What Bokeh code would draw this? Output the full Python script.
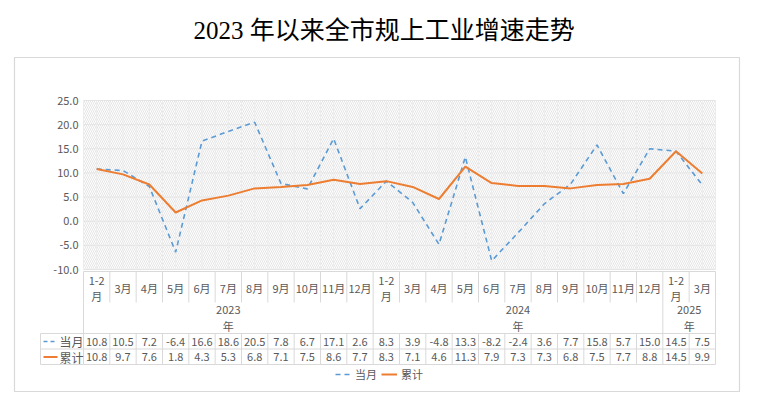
from bokeh.plotting import figure
from bokeh.models import Range1d, Legend, LegendItem
from bokeh.core.properties import value
from bokeh.embed import file_html
from bokeh.resources import INLINE

# ---------------- data ----------------
title_text = "2023 年以来全市规上工业增速走势"
months = ["1-2月", "3月", "4月", "5月", "6月", "7月", "8月", "9月", "10月", "11月", "12月",
          "1-2月", "3月", "4月", "5月", "6月", "7月", "8月", "9月", "10月", "11月", "12月",
          "1-2月", "3月"]
years = ["2023年"] * 11 + ["2024年"] * 11 + ["2025年"] * 2
current = [10.8, 10.5, 7.2, -6.4, 16.6, 18.6, 20.5, 7.8, 6.7, 17.1, 2.6,
           8.3, 3.9, -4.8, 13.3, -8.2, -2.4, 3.6, 7.7, 15.8, 5.7, 15.0,
           14.5, 7.5]
cumulative = [10.8, 9.7, 7.6, 1.8, 4.3, 5.3, 6.8, 7.1, 7.5, 8.6, 7.7,
              8.3, 7.1, 4.6, 11.3, 7.9, 7.3, 7.3, 6.8, 7.5, 7.7, 8.8,
              14.5, 9.9]
y_ticks = [-10, -5, 0, 5, 10, 15, 20, 25]
series_names = ["当月", "累计"]

# ---------------- style ----------------
FONT = value("Noto Sans CJK SC")
GRAY = "#595959"
LINE = "#d9d9d9"
BLUE = "#5B9BD5"
ORANGE = "#ED7D31"

n = len(months)
W, H = 765, 393
FL, FR, FT, FB = 14, 739, 57, 391        # outer frame (page px)
PL, PR, PT, PB = 83, 715, 100, 269       # plot area (page px)
cw = (PR - PL) / n
ppu = (PB - PT) / (max(y_ticks) - min(y_ticks))
x0 = -(PL - FL) / cw
x1 = n + (FR - PR) / cw
y1 = max(y_ticks) + (PT - FT) / ppu
y0 = min(y_ticks) - (FB - PB) / ppu

p = figure(width=W, height=H, output_backend="svg", toolbar_location=None,
           x_axis_location=None, y_axis_location=None,
           x_range=Range1d(x0, x1), y_range=Range1d(y0, y1),
           min_border_left=FL, min_border_right=W - FR, min_border_top=FT,
           min_border_bottom=H - FB, title=title_text)
p.extra_x_ranges = {"px": Range1d(FL, FR)}
p.extra_y_ranges = {"py": Range1d(FB, FT)}
p.grid.visible = False
p.outline_line_color = LINE
p.outline_line_width = 1.2
p.background_fill_color = "white"
p.border_fill_color = "white"

p.title.align = "left"
p.title.offset = 179
p.title.text_font = "Liberation Serif, Noto Sans CJK SC"
p.title.text_font_size = "25px"
p.title.text_font_style = "normal"
p.title.text_color = "#000000"
p.title.standoff = 28

# plot background with hatch
ymin, ymax = min(y_ticks), max(y_ticks)
p.quad(left=0, right=n, bottom=ymin, top=ymax, fill_color="white",
       hatch_pattern="\\", hatch_color="#e2e2e2", hatch_scale=4, hatch_weight=0.9,
       line_color=None)

# grid lines
p.segment(x0=[0] * len(y_ticks), x1=[n] * len(y_ticks), y0=y_ticks, y1=y_ticks,
          line_color="#e4e4e4", line_width=1)
vx = [i / 2 for i in range(2 * n + 1)]
p.segment(x0=vx, x1=vx, y0=[ymin] * len(vx), y1=[ymax] * len(vx),
          line_color="#ececec", line_width=1)

# y tick labels
p.text(x=[78] * len(y_ticks), y=y_ticks, text=[f"{t:.1f}" for t in y_ticks],
       x_range_name="px", text_font=FONT, text_font_size="11px", text_color=GRAY,
       text_align="right", text_baseline="middle")

# series
xs = [i + 0.5 for i in range(n)]
r1 = p.line(xs, current, line_color=BLUE, line_width=1.6, line_dash="5 4")
r2 = p.line(xs, cumulative, line_color=ORANGE, line_width=2)

# ---------------- table ----------------
bounds = list(range(n + 1))
p.segment(x0=[0], x1=[n], y0=[271], y1=[271], y_range_name="py", line_color=LINE)
p.segment(x0=bounds, x1=bounds, y0=[271] * len(bounds), y1=[302] * len(bounds),
          y_range_name="py", line_color=LINE)
ybounds = [0] + [i for i in range(1, n) if years[i] != years[i - 1]] + [n]
p.segment(x0=ybounds, x1=ybounds, y0=[302] * len(ybounds), y1=[333] * len(ybounds),
          y_range_name="py", line_color=LINE)
rows = [333, 348.5, 364]
p.segment(x0=[0] * 3, x1=[n] * 3, y0=rows, y1=rows, y_range_name="py", line_color=LINE)
p.segment(x0=[40] * 3, x1=[PL] * 3, y0=rows, y1=rows, x_range_name="px",
          y_range_name="py", line_color=LINE)
p.segment(x0=bounds, x1=bounds, y0=[333] * len(bounds), y1=[364] * len(bounds),
          y_range_name="py", line_color=LINE)
p.segment(x0=[40], x1=[40], y0=[333], y1=[364], x_range_name="px", y_range_name="py",
          line_color=LINE)

mlab = [m.replace("1-2月", "1-2\n月") for m in months]
p.text(x=xs, y=[287] * n, text=mlab, y_range_name="py", text_font=FONT,
       text_font_size="11px", text_color=GRAY, text_align="center",
       text_baseline="middle", text_line_height=1.0)
yc, yl = [], []
for a, b in zip(ybounds[:-1], ybounds[1:]):
    yc.append((a + b) / 2)
    yl.append(years[a].replace("年", "\n年"))
p.text(x=yc, y=[317] * len(yc), text=yl, y_range_name="py", text_font=FONT,
       text_font_size="11px", text_color=GRAY, text_align="center",
       text_baseline="middle", text_line_height=1.1)
p.text(x=xs, y=[341] * n, text=[f"{v:.1f}" for v in current], y_range_name="py",
       text_font=FONT, text_font_size="11px", text_color=GRAY, text_align="center",
       text_baseline="middle")
p.text(x=xs, y=[356.5] * n, text=[f"{v:.1f}" for v in cumulative], y_range_name="py",
       text_font=FONT, text_font_size="11px", text_color=GRAY, text_align="center",
       text_baseline="middle")
p.segment(x0=[43], x1=[57], y0=[341], y1=[341], x_range_name="px", y_range_name="py",
          line_color=BLUE, line_width=1.6, line_dash="4 3")
p.segment(x0=[43], x1=[57], y0=[356.5], y1=[356.5], x_range_name="px", y_range_name="py",
          line_color=ORANGE, line_width=2)
p.text(x=[71, 71], y=[341, 356.5], text=series_names, x_range_name="px", y_range_name="py",
       text_font=FONT, text_font_size="12px", text_color=GRAY, text_align="center",
       text_baseline="middle")

# legend
legend = Legend(items=[LegendItem(label=series_names[0], renderers=[r1]),
                       LegendItem(label=series_names[1], renderers=[r2])],
                orientation="horizontal", location=(321, 9),
                background_fill_alpha=0, border_line_color=None,
                label_text_font="Noto Sans CJK SC", label_text_font_size="11px",
                label_text_color=GRAY, glyph_width=16, glyph_height=12,
                label_standoff=4, spacing=4, padding=0, margin=0)
p.add_layout(legend)

open("out.html", "w").write(file_html(p, INLINE))
